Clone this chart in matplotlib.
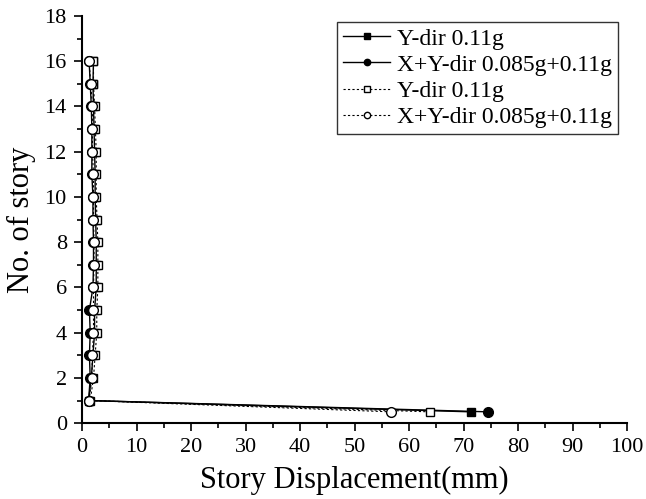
import matplotlib
matplotlib.use('Agg')
import matplotlib.pyplot as plt
from matplotlib.ticker import MultipleLocator

plt.rcParams['font.family'] = ['Liberation Serif', 'DejaVu Serif']

# story levels (0.5 = base point)
story = [0.5, 1, 2, 3, 4, 5, 6, 7, 8, 9, 10, 11, 12, 13, 14, 15, 16]

# displacement (mm)
y_fill_sq = [71.3, 1.2, 1.7, 2.0, 2.3, 2.3, 2.6, 2.6, 2.6, 2.5, 2.4, 2.4, 2.3, 2.2, 2.1, 2.0, 2.1]
xy_fill_ci = [74.5, 1.2, 1.5, 1.35, 1.5, 1.35, 2.0, 2.1, 2.1, 2.0, 2.0, 1.8, 1.8, 1.8, 1.7, 1.5, 1.3]
y_open_sq = [63.8, 1.5, 2.1, 2.4, 2.7, 2.7, 2.9, 2.9, 2.9, 2.75, 2.6, 2.6, 2.6, 2.45, 2.3, 2.1, 2.1]
xy_open_ci = [56.7, 1.3, 1.8, 1.9, 2.1, 2.1, 2.1, 2.2, 2.2, 2.1, 2.1, 2.1, 1.9, 1.9, 1.9, 1.6, 1.28]

labels = ['Y-dir 0.11g', 'X+Y-dir 0.085g+0.11g', 'Y-dir 0.11g', 'X+Y-dir 0.085g+0.11g']

fig = plt.figure(figsize=(6.46, 4.99), dpi=100)
ax = fig.add_axes([0.127, 0.152, 0.844, 0.816])

sq_ms, ci_ms = 6.0, 7.0
ax.plot(y_fill_sq, story, '-', color='black', lw=1.0, marker='s', ms=sq_ms,
        mfc='black', mec='black', label=labels[0])
ax.plot(xy_fill_ci, story, '-', color='black', lw=1.0, marker='o', ms=ci_ms,
        mfc='black', mec='black', label=labels[1])
ax.plot(y_open_sq, story, '--', color='black', lw=0.8, dashes=(2, 2), marker='s', ms=sq_ms,
        mfc='white', mec='black', label=labels[2])
ax.plot(xy_open_ci, story, '--', color='black', lw=0.8, dashes=(2, 2), marker='o', ms=ci_ms,
        mfc='white', mec='black', label=labels[3])

ax.set_xlim(0, 100)
ax.set_ylim(0, 18)
ax.xaxis.set_major_locator(MultipleLocator(10))
ax.xaxis.set_minor_locator(MultipleLocator(5))
ax.yaxis.set_major_locator(MultipleLocator(2))
ax.yaxis.set_minor_locator(MultipleLocator(1))
ax.tick_params(which='major', direction='out', length=6, width=1.2, labelsize=16, pad=5)
ax.tick_params(which='minor', direction='out', length=3.5, width=1.2)

for s in ['top', 'right']:
    ax.spines[s].set_visible(False)
for s in ['left', 'bottom']:
    ax.spines[s].set_linewidth(1.5)

ax.set_xlabel('Story Displacement(mm)', fontsize=22, labelpad=6)
ax.set_ylabel('No. of story', fontsize=22, labelpad=6)

leg = ax.legend(loc='upper right', bbox_to_anchor=(0.9835, 0.985), borderaxespad=0,
                fontsize=17, frameon=True, fancybox=False, edgecolor='black',
                handlelength=2.0, borderpad=0.25, labelspacing=0.2, handletextpad=0.3,
                markerscale=0.65)
leg.get_frame().set_linewidth(1.0)

fig.savefig('out.png', dpi=100)
